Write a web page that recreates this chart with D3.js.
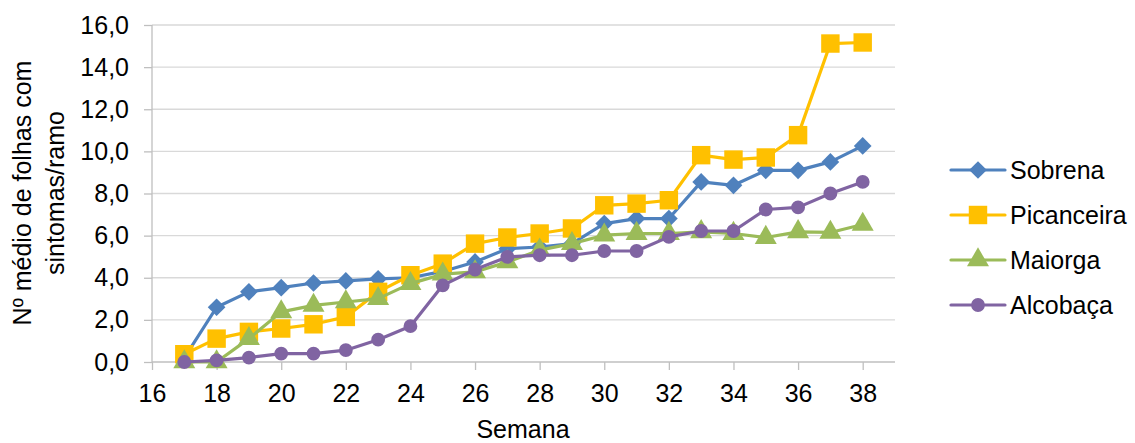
<!DOCTYPE html>
<html>
<head>
<meta charset="utf-8">
<script src="https://cdn.jsdelivr.net/npm/d3@7"></script>
<style>
  body { margin: 0; background: #fff; }
  svg { display: block; font-family: "Liberation Sans", Arial, sans-serif; }
</style>
</head>
<body>
<svg id="chart"></svg>
<script>
// weeks and series values
const weeks = [17,18,19,20,21,22,23,24,25,26,27,28,29,30,31,32,33,34,35,36,37,38];
const sobrena    = [0.2,2.6,3.33,3.53,3.75,3.85,3.95,4.0,4.3,4.75,5.38,5.46,5.62,6.57,6.81,6.81,8.55,8.39,9.1,9.1,9.5,10.26];
const picanceira = [0.37,1.11,1.43,1.59,1.79,2.14,3.33,4.12,4.67,5.62,5.91,6.1,6.34,7.44,7.52,7.68,9.82,9.61,9.71,10.77,15.12,15.17];
const maiorga    = [0.0,0.0,1.11,2.38,2.69,2.85,3.01,3.72,4.17,4.28,4.75,5.31,5.62,6.02,6.1,6.1,6.18,6.1,5.91,6.18,6.15,6.53];
const alcobaca   = [0.0,0.08,0.21,0.4,0.4,0.56,1.06,1.7,3.64,4.39,4.99,5.07,5.07,5.27,5.27,5.94,6.22,6.22,7.24,7.34,8.0,8.55];
const seriesNames = ["Sobrena","Picanceira","Maiorga","Alcobaça"];
const xTicks = [16,18,20,22,24,26,28,30,32,34,36,38];
const yTicks = [0,2,4,6,8,10,12,14,16];

const width = 1135, height = 443;
const svg = d3.select("#chart").attr("width", width).attr("height", height);

const x = d3.scaleLinear().domain([16, 39]).range([152, 895]);
const y = d3.scaleLinear().domain([0, 16]).range([362, 25]);

const colors = ["#4F81BD", "#FFC000", "#9BBB59", "#8064A2"];
const symbols = [d3.symbolDiamond2, d3.symbolSquare, d3.symbolTriangle, d3.symbolCircle];
const sizes = [200, 340, 210, 150];
const allSeries = [sobrena, picanceira, maiorga, alcobaca];

// gridlines
svg.append("g")
  .selectAll("line")
  .data(yTicks.slice(1))
  .enter()
  .append("line")
    .attr("x1", x(16)).attr("x2", x(39))
    .attr("y1", d => y(d)).attr("y2", d => y(d))
    .attr("stroke", "#D9D9D9")
    .attr("stroke-width", 1.3);

// axes
const xAxis = d3.axisBottom(x).tickValues(xTicks).tickSize(8).tickPadding(14).tickFormat(d3.format("d"));
const yAxis = d3.axisLeft(y).tickValues(yTicks).tickSize(8).tickPadding(15)
  .tickFormat(d => d3.format(".1f")(d).replace(".", ","));

const gx = svg.append("g").attr("transform", `translate(0, ${y(0)})`).call(xAxis);
gx.select(".domain").attr("d", `M${x(16)},0H${x(39)}`);
const gy = svg.append("g").attr("transform", `translate(${x(16)}, 0)`).call(yAxis);
gy.select(".domain").attr("d", `M0,${y(0)}V${y(16)}`);

[gx, gy].forEach(g => {
  g.selectAll(".domain, line").attr("stroke", "#BFBFBF").attr("stroke-width", 1.3);
  g.selectAll("text").attr("fill", "#000").style("font-size", "25px").style("font-family", "Liberation Sans, Arial, sans-serif");
});

// series lines and markers
const line = d3.line().x((d, i) => x(weeks[i])).y(d => y(d));
allSeries.forEach((vals, s) => {
  svg.append("path")
    .datum(vals)
    .attr("d", line)
    .attr("fill", "none")
    .attr("stroke", colors[s])
    .attr("stroke-width", 3.2)
    .attr("stroke-linejoin", "round");
  svg.append("g")
    .selectAll("path")
    .data(vals)
    .enter()
    .append("path")
      .attr("d", d3.symbol().type(symbols[s]).size(sizes[s]))
      .attr("transform", (d, i) => `translate(${x(weeks[i])}, ${y(d)})`)
      .attr("fill", colors[s]);
});

// axis titles
svg.append("text")
  .attr("x", 523).attr("y", 438)
  .attr("text-anchor", "middle")
  .style("font-size", "25px")
  .text("Semana");

const yTitle = svg.append("text")
  .attr("transform", "translate(0, 193) rotate(-90)")
  .attr("text-anchor", "middle")
  .style("font-size", "25px");
yTitle.append("tspan").attr("x", 0).attr("y", 31).text("Nº médio de folhas com");
yTitle.append("tspan").attr("x", 0).attr("y", 64).text("sintomas/ramo");

// legend
const legend = svg.append("g");
seriesNames.forEach((name, s) => {
  const ly = 170 + s * 45;
  legend.append("line")
    .attr("x1", 951).attr("x2", 1005)
    .attr("y1", ly).attr("y2", ly)
    .attr("stroke", colors[s]).attr("stroke-width", 3.2)
    .attr("stroke-linecap", "round");
  legend.append("path")
    .attr("d", d3.symbol().type(symbols[s]).size(sizes[s]))
    .attr("transform", `translate(978, ${ly})`)
    .attr("fill", colors[s]);
  legend.append("text")
    .attr("x", 1010).attr("y", ly + 9)
    .style("font-size", "25px")
    .text(name);
});
</script>
</body>
</html>
